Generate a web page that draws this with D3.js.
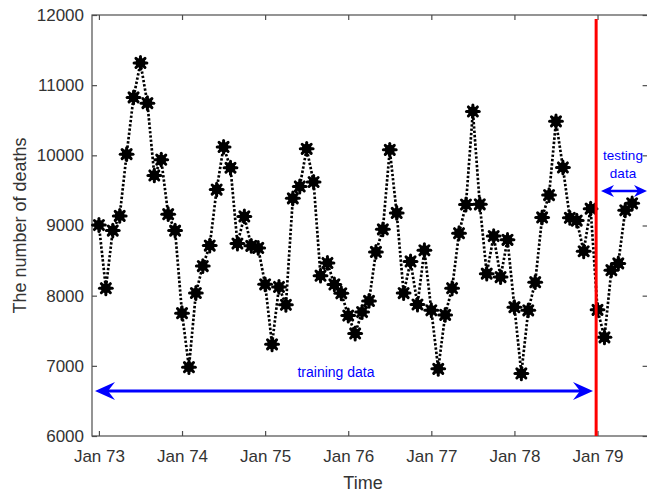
<!DOCTYPE html>
<html><head><meta charset="utf-8">
<script src="https://cdn.jsdelivr.net/npm/d3@7"></script>
<style>body{margin:0;background:#fff}svg{display:block}</style>
</head><body>
<svg id="c" width="647" height="493"></svg>
<script>
const trainValues = [9007,8106,8928,9137,10017,10826,11317,10744,9713,9938,9161,8927,
7750,6981,8038,8422,8714,9512,10120,9823,8743,9129,8710,8680,
8162,7306,8124,7870,9387,9556,10093,9620,8285,8466,8160,8034,
7717,7461,7767,7925,8623,8945,10078,9179,8037,8488,7874,8647,
7792,6957,7726,8106,8890,9299,10625,9302,8314,8850,8265,8796,
7836,6892,7791,8192,9115,9434,10484,9827,9110,9070,8633,9240];
const testValues = [7798,7406,8363,8460,9217,9316];
const xTickLabels = ["Jan 73","Jan 74","Jan 75","Jan 76","Jan 77","Jan 78","Jan 79"];
const yTicks = [6000,7000,8000,9000,10000,11000,12000];

const values = trainValues.concat(testValues);
const svg = d3.select("#c");
const L=92, R=646, T=15, B=436, RB=647.6;
const x = d3.scaleLinear().domain([-1,79]).range([L,R]);
const y = d3.scaleLinear().domain([6000,12000]).range([B,T]);
const axisCol="#4d4d4d", txtCol="#333333", font="'Liberation Sans', Arial, sans-serif";

svg.append("rect").attr("x",L).attr("y",T).attr("width",RB-L).attr("height",B-T)
  .attr("fill","none").attr("stroke",axisCol).attr("stroke-width",1.2);

const xt = xTickLabels.map((d,i)=>i*12);
const gx = svg.append("g").attr("transform",`translate(0,${B})`)
  .call(d3.axisBottom(x).tickValues(xt).tickFormat((d,i)=>xTickLabels[i]).tickSizeInner(-5).tickSizeOuter(0).tickPadding(14));
const gxt = svg.append("g").attr("transform",`translate(0,${T})`)
  .call(d3.axisTop(x).tickValues(xt).tickFormat("").tickSizeInner(-5).tickSizeOuter(0));
const gy = svg.append("g").attr("transform",`translate(${L},0)`)
  .call(d3.axisLeft(y).tickValues(yTicks).tickFormat(d3.format("d")).tickSizeInner(-5).tickSizeOuter(0).tickPadding(8));
const gyr = svg.append("g").attr("transform",`translate(${RB},0)`)
  .call(d3.axisRight(y).tickValues(yTicks).tickFormat("").tickSizeInner(-5).tickSizeOuter(0));
[gx,gxt,gy,gyr].forEach(g=>{
  g.select(".domain").remove();
  g.selectAll(".tick line").attr("stroke",axisCol).attr("stroke-width",1.2);
  g.selectAll("text").attr("fill",txtCol).style("font-family",font).style("font-size","17px");
});

svg.append("path").datum(values)
  .attr("d", d3.line().x((d,i)=>x(i)).y(d=>y(d)))
  .attr("fill","none").attr("stroke","#000").attr("stroke-width",2.7).attr("stroke-dasharray","2.4,1.9");

const m = svg.append("g").selectAll("g").data(values).join("g")
  .attr("transform",(d,i)=>`translate(${x(i)},${y(d)})`);
m.append("circle").attr("r",5).attr("fill","#000");
[0,45,90,135].forEach(a=>{
  const r=6.4, rad=a*Math.PI/180;
  m.append("line").attr("x1",-r*Math.cos(rad)).attr("y1",-r*Math.sin(rad))
   .attr("x2",r*Math.cos(rad)).attr("y2",r*Math.sin(rad))
   .attr("stroke","#000").attr("stroke-width",3).attr("stroke-linecap","round");
});

const splitX = x(71.8);
svg.append("line").attr("x1",splitX).attr("x2",splitX).attr("y1",19).attr("y2",B)
  .attr("stroke","#ff0000").attr("stroke-width",3);

const blue="#0000ff";
function head(tipX, yy, dir, len, hw, back){
  const p = [[tipX,yy],[tipX-dir*len,yy-hw],[tipX-dir*(len-back),yy],[tipX-dir*len,yy+hw]];
  svg.append("path").attr("d","M"+p.map(q=>q.join(",")).join("L")+"Z").attr("fill",blue);
}
const ay = 391;
svg.append("line").attr("x1",100).attr("x2",588).attr("y1",ay).attr("y2",ay).attr("stroke",blue).attr("stroke-width",3);
head(95,ay,-1,20,9,7); head(593,ay,1,20,9,7);
svg.append("text").attr("x",336).attr("y",377).attr("text-anchor","middle").attr("fill",blue)
  .style("font-family",font).style("font-size","14px").text("training data");

const ty = 191;
svg.append("line").attr("x1",606).attr("x2",642).attr("y1",ty).attr("y2",ty).attr("stroke",blue).attr("stroke-width",2.5);
head(601,ty,-1,13,6,4); head(647,ty,1,13,6,4);
svg.append("text").attr("x",623).attr("y",160).attr("text-anchor","middle").attr("fill",blue)
  .style("font-family",font).style("font-size","13.5px").text("testing");
svg.append("text").attr("x",623).attr("y",178).attr("text-anchor","middle").attr("fill",blue)
  .style("font-family",font).style("font-size","13.5px").text("data");

svg.append("text").attr("x",363).attr("y",489).attr("text-anchor","middle").attr("fill",txtCol)
  .style("font-family",font).style("font-size","18px").text("Time");
svg.append("text").attr("transform",`translate(26,${(T+B)/2}) rotate(-90)`).attr("text-anchor","middle").attr("fill",txtCol)
  .style("font-family",font).style("font-size","18px").text("The number of deaths");
</script>
</body></html>
